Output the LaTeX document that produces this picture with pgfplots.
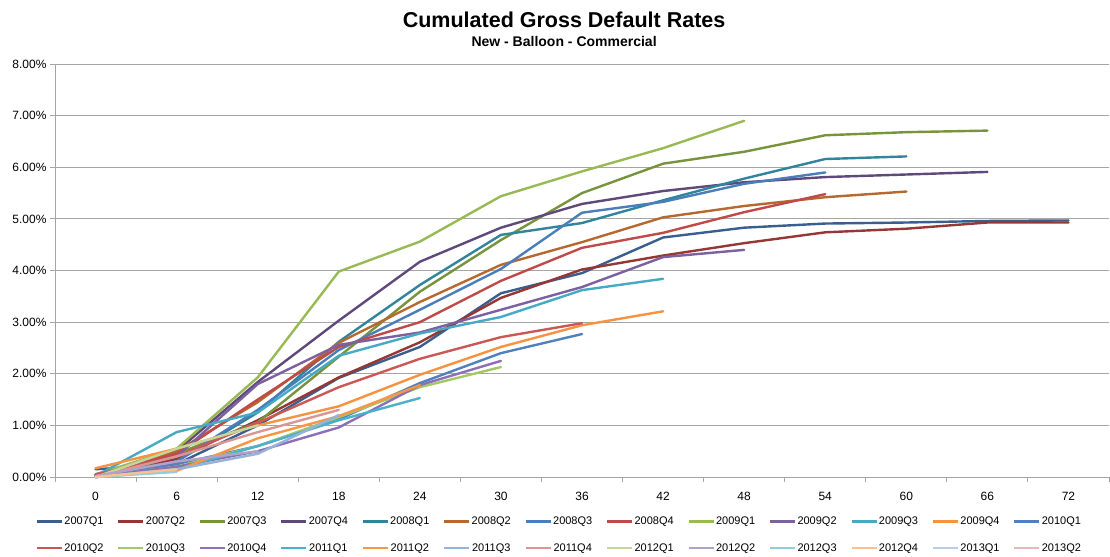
\documentclass[border=0pt]{standalone}
\usepackage{pgfplots}
\pgfplotsset{compat=1.18}
\usepackage{fontspec}
\setmainfont{Liberation Sans}

\definecolor{c01}{HTML}{3A5F8F}
\definecolor{c02}{HTML}{953735}
\definecolor{c03}{HTML}{77933C}
\definecolor{c04}{HTML}{5F497A}
\definecolor{c05}{HTML}{31849B}
\definecolor{c06}{HTML}{B7682E}
\definecolor{c07}{HTML}{4A7EBB}
\definecolor{c08}{HTML}{BE4B48}
\definecolor{c09}{HTML}{98B954}
\definecolor{c10}{HTML}{7D60A0}
\definecolor{c11}{HTML}{46AAC5}
\definecolor{c12}{HTML}{F69240}
\definecolor{c13}{HTML}{4F81BD}
\definecolor{c14}{HTML}{CB5855}
\definecolor{c15}{HTML}{A5C866}
\definecolor{c16}{HTML}{8E6FB5}
\definecolor{c17}{HTML}{4BB0CC}
\definecolor{c18}{HTML}{F79646}
\definecolor{c19}{HTML}{95B3D7}
\definecolor{c20}{HTML}{D99694}
\definecolor{c21}{HTML}{C3D69B}
\definecolor{c22}{HTML}{B3A2C7}
\definecolor{c23}{HTML}{93CDDD}
\definecolor{c24}{HTML}{FAC090}
\definecolor{c25}{HTML}{B9CDE5}
\definecolor{c26}{HTML}{E6B9B8}
\definecolor{gridc}{HTML}{A6A6A6}

\begin{document}
\begin{tikzpicture}
\begin{axis}[
  scale only axis, width=1054pt, height=413pt,
  xmin=-3, xmax=75, ymin=0, ymax=8,
  axis x line*=bottom, axis y line*=left,
  axis line style={gridc, line width=1pt},
  xtick={0,6,...,72}, minor xtick={-3,3,...,75},
  ytick={0,1,...,8},
  ymajorgrids, grid style={gridc, line width=1pt},
  tick align=outside, major tick length=5pt, minor tick length=5pt,
  major x tick style={draw=none},
  minor x tick style={gridc, line width=1pt},
  major y tick style={gridc, line width=1pt},
  font=\fontsize{11}{13}\selectfont,
  ticklabel style={font=\fontsize{12}{14}\selectfont},
  /pgf/number format/assume math mode=true,
  yticklabel={\pgfmathprintnumber[fixed,fixed zerofill,precision=2]{\tick}\%},
  xticklabel style={yshift=-7pt},
  clip=false,
  no markers,
  every axis plot/.append style={line width=2.4pt, line join=round, line cap=round},
  legend columns=13,
  legend image code/.code={\draw[#1, line width=2.8pt, line cap=butt] (0pt,0pt) -- (25pt,0pt);},
  legend style={at={(axis description cs:0.478,-0.087)}, anchor=north, draw=none, fill=none,
    font=\fontsize{11}{13}\selectfont, row sep=13pt,
    /tikz/every even column/.append style={column sep=12.5pt},
    nodes={inner xsep=1pt}},
]
\addplot[c01] coordinates {(0,0.15)(6,0.25)(12,1.0)(18,1.92)(24,2.52)(30,3.56)(36,3.95)(42,4.64)(48,4.83)(54,4.91)(60,4.93)(66,4.96)(72,4.97)};
\addlegendentry{2007Q1}
\addplot[c02] coordinates {(0,0.03)(6,0.35)(12,1.1)(18,1.93)(24,2.61)(30,3.47)(36,4.02)(42,4.29)(48,4.53)(54,4.74)(60,4.81)(66,4.93)(72,4.93)};
\addlegendentry{2007Q2}
\addplot[c03] coordinates {(0,0.05)(6,0.45)(12,1.06)(18,2.33)(24,3.59)(30,4.59)(36,5.5)(42,6.07)(48,6.3)(54,6.62)(60,6.68)(66,6.71)};
\addlegendentry{2007Q3}
\addplot[c04] coordinates {(0,0.02)(6,0.5)(12,1.84)(18,3.03)(24,4.17)(30,4.83)(36,5.29)(42,5.54)(48,5.71)(54,5.81)(60,5.86)(66,5.91)};
\addlegendentry{2007Q4}
\addplot[c05] coordinates {(0,0.03)(6,0.3)(12,1.25)(18,2.62)(24,3.72)(30,4.69)(36,4.92)(42,5.36)(48,5.78)(54,6.16)(60,6.21)};
\addlegendentry{2008Q1}
\addplot[c06] coordinates {(0,0.05)(6,0.5)(12,1.45)(18,2.6)(24,3.39)(30,4.11)(36,4.55)(42,5.03)(48,5.25)(54,5.42)(60,5.53)};
\addlegendentry{2008Q2}
\addplot[c07] coordinates {(0,0.02)(6,0.3)(12,1.3)(18,2.46)(24,3.24)(30,4.03)(36,5.12)(42,5.33)(48,5.68)(54,5.9)};
\addlegendentry{2008Q3}
\addplot[c08] coordinates {(0,0.05)(6,0.45)(12,1.5)(18,2.52)(24,3.0)(30,3.8)(36,4.44)(42,4.73)(48,5.13)(54,5.48)};
\addlegendentry{2008Q4}
\addplot[c09] coordinates {(0,0.05)(6,0.55)(12,1.93)(18,3.98)(24,4.56)(30,5.44)(36,5.92)(42,6.37)(48,6.9)};
\addlegendentry{2009Q1}
\addplot[c10] coordinates {(0,0.02)(6,0.4)(12,1.8)(18,2.56)(24,2.8)(30,3.24)(36,3.68)(42,4.26)(48,4.4)};
\addlegendentry{2009Q2}
\addplot[c11] coordinates {(0,0.02)(6,0.87)(12,1.25)(18,2.35)(24,2.78)(30,3.1)(36,3.62)(42,3.84)};
\addlegendentry{2009Q3}
\addplot[c12] coordinates {(0,0.17)(6,0.55)(12,1.0)(18,1.37)(24,1.98)(30,2.52)(36,2.94)(42,3.21)};
\addlegendentry{2009Q4}
\addplot[c13] coordinates {(0,0.0)(6,0.25)(12,0.6)(18,1.12)(24,1.82)(30,2.4)(36,2.77)};
\addlegendentry{2010Q1}
\addplot[c14] coordinates {(0,0.05)(6,0.4)(12,1.05)(18,1.74)(24,2.29)(30,2.71)(36,2.98)};
\addlegendentry{2010Q2}
\addplot[c15] coordinates {(0,0.0)(6,0.2)(12,0.6)(18,1.16)(24,1.74)(30,2.13)};
\addlegendentry{2010Q3}
\addplot[c16] coordinates {(0,0.0)(6,0.2)(12,0.5)(18,0.96)(24,1.78)(30,2.25)};
\addlegendentry{2010Q4}
\addplot[c17] coordinates {(0,0.0)(6,0.15)(12,0.6)(18,1.1)(24,1.53)};
\addlegendentry{2011Q1}
\addplot[c18] coordinates {(0,0.0)(6,0.12)(12,0.75)(18,1.18)(24,1.78)};
\addlegendentry{2011Q2}
\addplot[c19] coordinates {(0,0.0)(6,0.15)(12,0.45)(18,1.2)};
\addlegendentry{2011Q3}
\addplot[c20] coordinates {(0,0.0)(6,0.4)(12,0.87)(18,1.3)};
\addlegendentry{2011Q4}
\addplot[c21] coordinates {(0,0.0)(6,0.55)(12,1.0)};
\addlegendentry{2012Q1}
\addplot[c22] coordinates {(0,0.02)(6,0.3)(12,0.5)};
\addlegendentry{2012Q2}
\addplot[c23] coordinates {(0,0.0)(6,0.1)};
\addlegendentry{2012Q3}
\addplot[c24] coordinates {(0,0.0)(6,0.15)};
\addlegendentry{2012Q4}
\addplot[c25] coordinates {(0,0.0)};
\addlegendentry{2013Q1}
\addplot[c26] coordinates {(0,0.0)};
\addlegendentry{2013Q2}

\node[font=\bfseries\fontsize{21.5}{24}\selectfont, anchor=base] at (axis description cs:0.483,1.0896) {Cumulated Gross Default Rates};
\node[font=\bfseries\fontsize{14}{16}\selectfont, anchor=base] at (axis description cs:0.483,1.0436) {New - Balloon - Commercial};
\coordinate (bbl) at (axis description cs:-0.0522,-0.1913);
\coordinate (btr) at (axis description cs:1.00095,1.155);
\end{axis}
\pgfresetboundingbox
\path (bbl) rectangle (btr);
\end{tikzpicture}
\end{document}
